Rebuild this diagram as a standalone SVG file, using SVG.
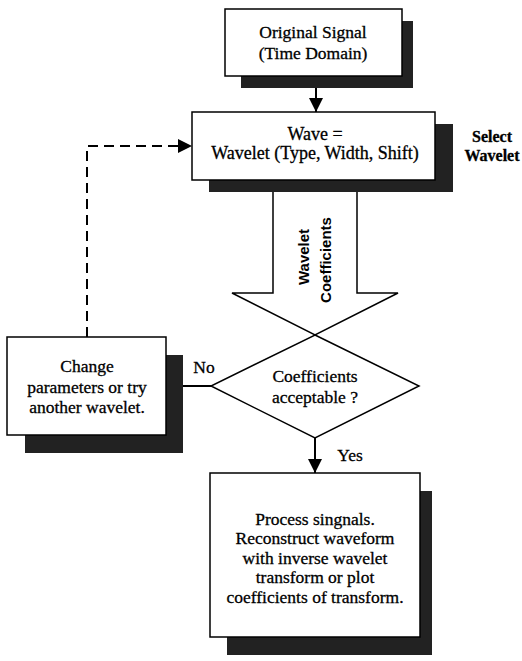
<svg xmlns="http://www.w3.org/2000/svg" width="522" height="661" viewBox="0 0 522 661">
<style>
.box{fill:#fff;stroke:#000;stroke-width:1.5}
.sh{fill:#222}
.t{font-family:"Liberation Serif","Times New Roman",serif;font-size:17.5px;fill:#000;stroke:#000;stroke-width:0.3;text-anchor:middle}
.s{font-family:"Liberation Sans",Arial,sans-serif;font-size:15px;font-weight:bold;fill:#000;text-anchor:middle}
.ln{stroke:#000;stroke-width:2;fill:none}
.dash{stroke:#000;stroke-width:2;fill:none;stroke-dasharray:10 6}
</style>
<defs>
<marker id="ahb" viewBox="0 0 10 10" refX="10" refY="5" markerWidth="14" markerHeight="14" markerUnits="userSpaceOnUse" orient="auto">
<path d="M0,0 L10,5 L0,10 z" fill="#000"/>
</marker>
</defs>
<g id="connectors">
<line class="ln" x1="316" y1="80" x2="316" y2="112" marker-end="url(#ahb)"/>
<line class="ln" x1="170" y1="386" x2="211" y2="386"/>
<line class="ln" x1="315" y1="438" x2="315" y2="473" marker-end="url(#ahb)"/>
<polyline class="dash" points="87,337 87,146 178,146"/>
<path d="M178,139 L192,146 L178,153 z" fill="#000"/>
<text class="t" x="204" y="373">No</text>
<text class="t" x="350" y="461">Yes</text>
</g>
<g id="big-arrow">
<polygon points="273,180 357,180 357,293 398,293 315,335 232,293 273,293" fill="#fff" stroke="#000" stroke-width="1.5"/>
<text class="s" transform="translate(309,257) rotate(-90)">Wavelet</text>
<text class="s" transform="translate(331,260) rotate(-90)">Coefficients</text>
</g>
<g id="original-signal">
<rect class="sh" x="241" y="21" width="172" height="67"/>
<rect class="box" x="225" y="9" width="177" height="67"/>
<text class="t" x="313" y="38">Original Signal</text>
<text class="t" x="313" y="59">(Time Domain)</text>
</g>
<g id="wave">
<rect class="sh" x="209" y="124" width="244" height="68"/>
<rect class="box" x="192" y="112" width="243" height="68"/>
<text class="t" x="315" y="140" style="font-size:18px">Wave  =</text>
<text class="t" x="315" y="159" style="font-size:18px">Wavelet (Type, Width, Shift)</text>
</g>
<g id="select-wavelet">
<text class="t" x="492" y="142" font-weight="bold" style="font-size:16px">Select</text>
<text class="t" x="492" y="161" font-weight="bold" style="font-size:16px">Wavelet</text>
</g>
<g id="decision">
<polygon points="315,335 419,386 315,438 211,386" fill="#fff" stroke="#000" stroke-width="1.5"/>
<text class="t" x="315" y="382">Coefficients</text>
<text class="t" x="315" y="403">acceptable ?</text>
</g>
<g id="change">
<rect class="sh" x="25" y="355" width="158" height="98"/>
<rect class="box" x="7" y="337" width="159" height="98"/>
<text class="t" x="87" y="372">Change</text>
<text class="t" x="87" y="393">parameters or try</text>
<text class="t" x="87" y="413">another wavelet.</text>
</g>
<g id="process">
<rect class="sh" x="227" y="491" width="205" height="164"/>
<rect class="box" x="210" y="473" width="210" height="164"/>
<text class="t" x="315" y="525">Process singnals.</text>
<text class="t" x="315" y="544">Reconstruct waveform</text>
<text class="t" x="315" y="564">with inverse wavelet</text>
<text class="t" x="315" y="583">transform or plot</text>
<text class="t" x="315" y="603">coefficients of transform.</text>
</g>
</svg>
